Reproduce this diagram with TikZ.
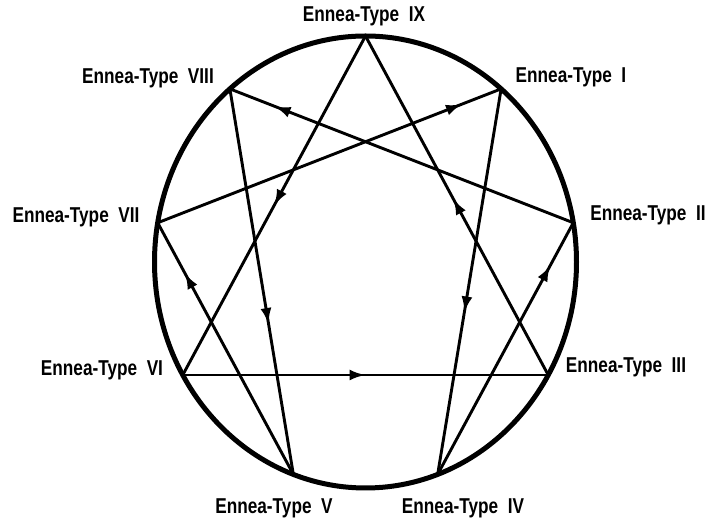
\documentclass[tikz,border=0pt]{standalone}
\usepackage{fontspec}
\newfontfamily\labfont{Liberation Sans}[FakeStretch=0.8]
\usetikzlibrary{arrows.meta,decorations.markings}
\begin{document}
\begin{tikzpicture}[x=1pt,y=1pt,
  edge/.style={line width=2.9pt, postaction={decorate},
    decoration={markings, mark=at position #1 with {\arrow{Latex[length=16pt,width=11pt]}}}},
  lab/.style={font=\labfont\bfseries\fontsize{21.5}{24}\selectfont, inner sep=0pt, anchor=center},
  ring/.style={line width=5pt}]
\useasboundingbox (0,0) rectangle (705,524);
\coordinate (C) at (365.5,262);
\foreach \k/\a in {1/50,2/10,3/-30,4/-70,5/-110,6/-150,7/170,8/130,9/90}
  \coordinate (t\k) at ({365.5+211*cos(\a)},{262+226*sin(\a)});
\draw[ring] (C) ellipse [x radius=211pt, y radius=226pt];
% triangle
\draw[edge=0.50] (t9) -- (t6);
\draw[edge=0.50] (t6) -- (t3);
\draw[edge=0.52] (t3) -- (t9);
% hexad
\draw[edge=0.58] (t1) -- (t4);
\draw[edge=0.83] (t4) -- (t2);
\draw[edge=0.87] (t2) -- (t8);
\draw[edge=0.61] (t8) -- (t5);
\draw[edge=0.80] (t5) -- (t7);
\draw[edge=0.886] (t7) -- (t1);
% labels
\node[lab] (l9) at (364,508) {Ennea-Type\ \ IX};
\node[lab] (l8) at (148,446) {Ennea-Type\ \ VIII};
\node[lab] (l1) at (571,447) {Ennea-Type\ \ I};
\node[lab] (l7) at (76,307) {Ennea-Type\ \ VII};
\node[lab] (l2) at (648,309) {Ennea-Type\ \ II};
\node[lab] (l6) at (102,154) {Ennea-Type\ \ VI};
\node[lab] (l3) at (626,157) {Ennea-Type\ \ III};
\node[lab] (l5) at (274,16) {Ennea-Type\ \ V};
\node[lab] (l4) at (463,16) {Ennea-Type\ \ IV};
\end{tikzpicture}
\end{document}
